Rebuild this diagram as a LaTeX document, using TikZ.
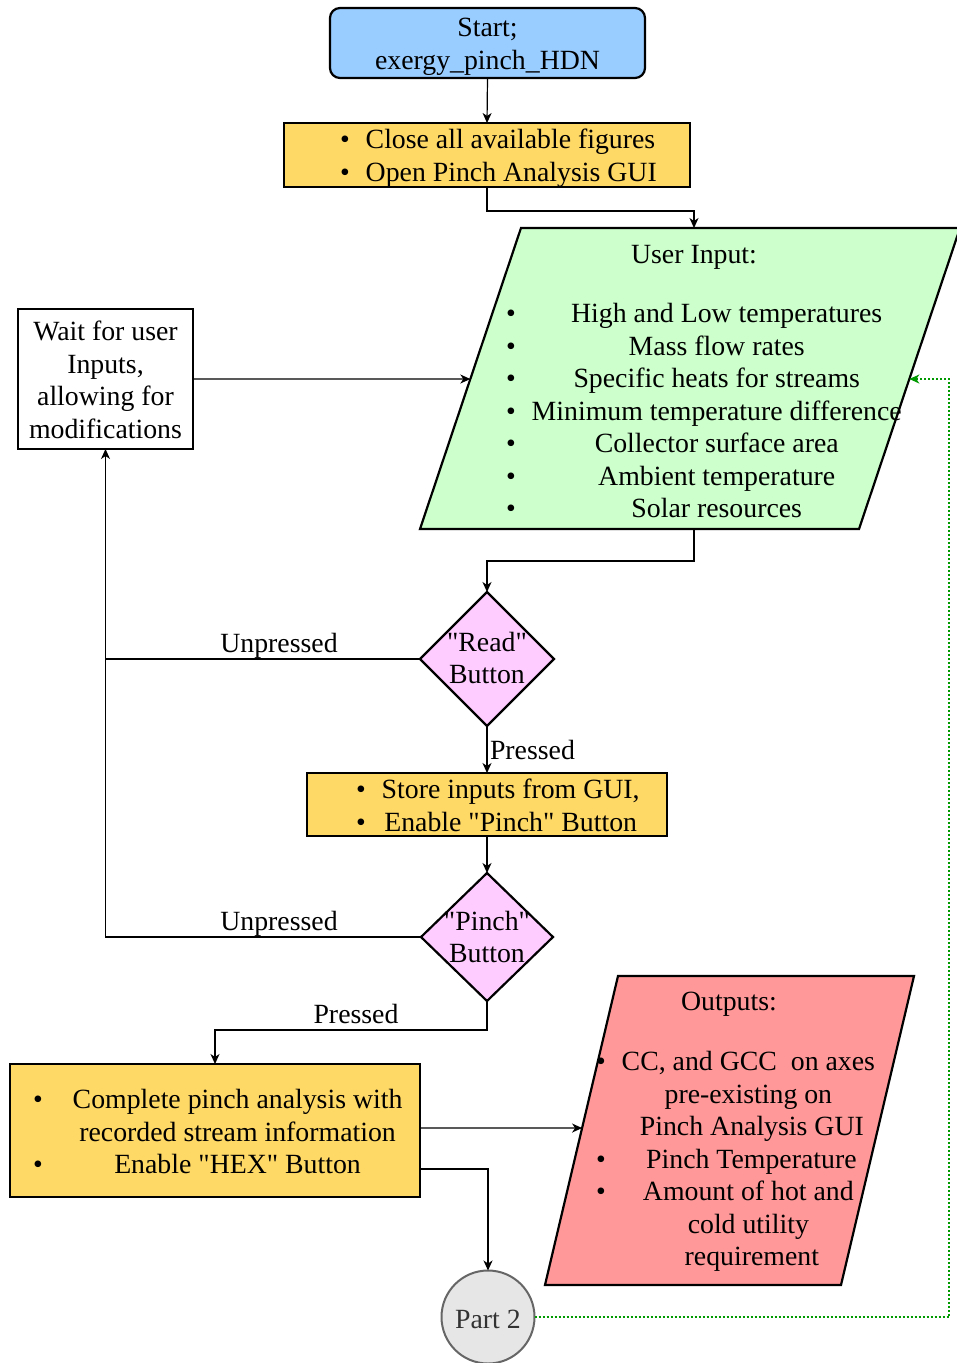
\documentclass[tikz,border=0pt]{standalone}
\usepackage{fontspec}
\setmainfont{Liberation Serif}[Ligatures=TeXOff]
\usetikzlibrary{shapes.geometric,arrows.meta,calc}

\definecolor{startfill}{HTML}{99CCFF}
\definecolor{actfill}{HTML}{FFD966}
\definecolor{infill}{HTML}{CCFFCC}
\definecolor{decfill}{HTML}{FFCCFF}
\definecolor{outfill}{HTML}{FF9999}
\definecolor{termfill}{HTML}{E6E6E6}
\definecolor{termline}{HTML}{666666}
\definecolor{termtext}{HTML}{333333}
\definecolor{loopgreen}{HTML}{009900}

% centred stack of lines whose baseline is the first line
\newcommand{\cstack}[1]{\begin{tabular}[t]{@{}c@{}}#1\end{tabular}}
% straight double quote
\newcommand{\dq}{\symbol{34}}

\begin{document}
\begin{tikzpicture}[x=1pt,y=-1pt,
  every node/.style={font=\fontsize{27.8}{32.5}\selectfont, inner sep=0pt, outer sep=0pt},
  shapeline/.style={draw=black, line width=2.2pt},
  procbox/.style={shapeline, rectangle, fill=actfill},
  decision/.style={shapeline, diamond, fill=decfill},
  txt/.style={anchor=base},
  conn/.style={line width=1.2pt, -{Stealth[length=10pt,width=9pt,inset=3pt]}},
  joinline/.style={line width=1.2pt},
  feedback/.style={line width=1.8pt, draw=loopgreen, dash pattern=on 2pt off 2pt,
    -{Stealth[length=10pt,width=9pt,inset=3pt]}},
]
\useasboundingbox (0,0) rectangle (957,1363);

% start terminal
\node[shapeline, rectangle, rounded corners=10pt, fill=startfill,
      minimum width=315pt, minimum height=70pt] (start) at (487.5,43) {};
\node[txt] (starttxt) at (487.5,36.5) {\cstack{Start;\\exergy\_pinch\_HDN}};

% initialisation
\node[procbox, minimum width=406pt, minimum height=64pt] (box1) at (487,155) {};
\node[txt, anchor=base west] (box1txt) at (340,148.5)
  {\begin{tabular}[t]{@{}l@{\hspace{16pt}}l@{}}
   \textbullet & Close all available figures\\
   \textbullet & Open Pinch Analysis GUI
   \end{tabular}};

% user input parallelogram
\coordinate (gBL) at (420,529);
\coordinate (gTL) at (521,228);
\coordinate (gTR) at (960,228);
\coordinate (gBR) at (859,529);
\draw[shapeline, fill=infill] (gBL) -- (gTL) -- (gTR) -- (gBR) -- cycle;
\coordinate (gtop) at (694,228);
\coordinate (gbot) at (694,529);
\coordinate (gleft) at ($(gBL)!0.4983!(gTL)$);
\coordinate (gright) at ($(gBR)!0.4983!(gTR)$);
\node[txt] (inhead) at (694,263) {User Input:};
\node[txt, anchor=base west] (inlist) at (506,322.5)
  {\begin{tabular}[t]{@{}l@{\hspace{16pt}}c@{}}
   \textbullet & \hspace*{20pt}High and Low temperatures\\
   \textbullet & Mass flow rates\\
   \textbullet & Specific heats for streams\\
   \textbullet & Minimum temperature difference\\
   \textbullet & Collector surface area\\
   \textbullet & Ambient temperature\\
   \textbullet & Solar resources
   \end{tabular}};

% waiting state
\node[shapeline, rectangle, fill=white, minimum width=175pt, minimum height=140pt]
  (wait) at (105.5,379) {};
\node[txt] (waittxt) at (105.5,340.5)
  {\cstack{Wait for user\\Inputs,\\allowing for\\modifications}};

% "Read" decision
\node[decision, minimum width=134pt, minimum height=134pt] (read) at (487,659) {};
\node[txt] (readtxt) at (487,651) {\cstack{\dq Read\dq\\Button}};

% store inputs
\node[procbox, minimum width=360pt, minimum height=63pt] (box2) at (487,804.5) {};
\node[txt, anchor=base west] (box2txt) at (356,798.5)
  {\begin{tabular}[t]{@{}l@{\hspace{16pt}}c@{}}
   \textbullet & Store inputs from GUI,\\
   \textbullet & Enable \dq Pinch\dq{} Button
   \end{tabular}};

% "Pinch" decision
\node[decision, minimum width=132pt, minimum height=128pt] (pinch) at (487,937) {};
\node[txt] (pinchtxt) at (487,930) {\cstack{\dq Pinch\dq\\Button}};

% analysis
\node[procbox, minimum width=410pt, minimum height=133pt] (box3) at (215,1130.5) {};
\node[txt, anchor=base west] (box3txt) at (33,1108.5)
  {\begin{tabular}[t]{@{}l@{\hspace{30pt}}c@{}}
   \textbullet & Complete pinch analysis with\\
               & recorded stream information\\
   \textbullet & Enable \dq HEX\dq{} Button
   \end{tabular}};

% outputs parallelogram
\coordinate (pBL) at (545,1285);
\coordinate (pTL) at (618,976);
\coordinate (pTR) at (914,976);
\coordinate (pBR) at (841,1285);
\draw[shapeline, fill=outfill] (pBL) -- (pTL) -- (pTR) -- (pBR) -- cycle;
\coordinate (pleft) at ($(pBL)!0.508!(pTL)$);
\node[txt] (outhead) at (729,1010) {Outputs:};
\node[txt, anchor=base west] (outlist) at (596,1070.5)
  {\begin{tabular}[t]{@{}l@{\hspace{16pt}}c@{}}
   \textbullet & CC, and GCC~~on axes\\
               & pre-existing on\\
               & \hspace*{7pt}Pinch Analysis GUI\\
   \textbullet & \hspace*{6pt}Pinch Temperature\\
   \textbullet & Amount of hot and\\
               & cold utility\\
               & \hspace*{7pt}requirement
   \end{tabular}};

% off-page connector
\node[circle, draw=termline, line width=2pt, fill=termfill, minimum size=93pt]
  (part2) at (488,1317) {};
\node[txt, text=termtext] (part2txt) at (488,1328) {Part 2};

% branch labels
\node[txt] (lblreadno) at (279,652) {Unpressed};
\node[txt, anchor=base west] (lblreadyes) at (490,759) {Pressed};
\node[txt] (lblpinchno) at (279,930) {Unpressed};
\node[txt] (lblpinchyes) at (356,1023) {Pressed};

% connectors
\draw[conn] (start.south) -- (box1.north);
\draw[conn] (box1.south) -- ++(0,24) -| (gtop);
\draw[conn] (wait.east) -- (gleft);
\draw[conn] (gbot) -- ++(0,32) -| (read.north);
\draw[conn] (read.west) -| (wait.south);
\draw[conn] (read.south) -- (box2.north);
\draw[conn] (box2.south) -- (pinch.north);
\draw[joinline] (pinch.west) -| (wait.south |- read.west);
\draw[conn] (pinch.south) -- ++(0,29) -| (box3.north);
\draw[conn] ([yshift=2.5pt]box3.east) -- (pleft);
\draw[conn] ([yshift=-38.5pt]box3.east) -| (part2.north);

% return path to the input stage
\coordinate (loopx) at (949,0);
\draw[feedback] (part2.east) -- (part2.east -| loopx) |- (gright);
\end{tikzpicture}
\end{document}
